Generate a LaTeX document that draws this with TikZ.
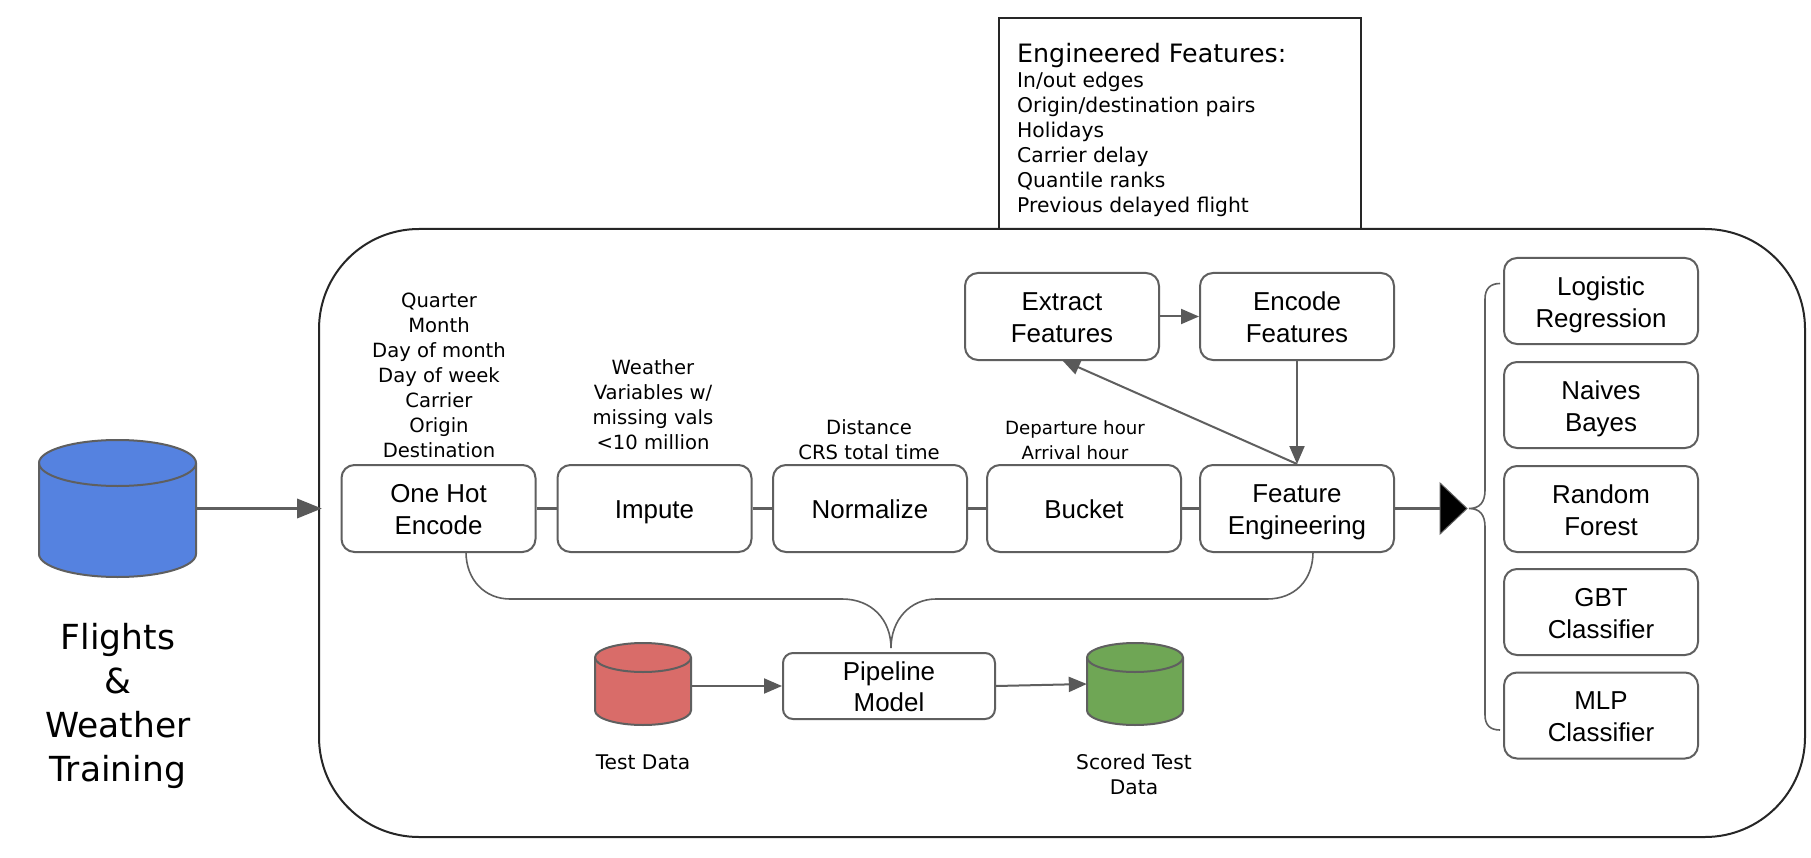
\documentclass[tikz,border=0pt]{standalone}
\usepackage{fontspec}
\setmainfont{Liberation Sans}
\newfontfamily\annofam{DejaVu Sans}
\usetikzlibrary{arrows.meta,calc}
\definecolor{lineg}{HTML}{5F5F5F}
\definecolor{headg}{HTML}{595959}
\definecolor{dbblue}{HTML}{5582E0}
\definecolor{dbred}{HTML}{D96C69}
\definecolor{dbgreen}{HTML}{6FA655}
\newcommand{\fs}{\rule{0pt}{.98em}}
\newcommand{\dbcyl}[7]{%
  % name, xmin, xmax, ytop, ybottom, ry, colour
  \path[draw=lineg,line width=2pt,fill=#7]
    (#2,#4+#6) arc[x radius={(#3-#2)/2},y radius=#6,start angle=180,end angle=360]
    -- (#3,#5-#6) arc[x radius={(#3-#2)/2},y radius=#6,start angle=0,end angle=180] -- cycle;
  \path[draw=lineg,line width=2pt]
    (#2,#4+#6) arc[x radius={(#3-#2)/2},y radius=#6,start angle=180,end angle=0];
  \path ({(#2+#3)/2},{(#4+#5)/2}) node[inner sep=0pt,minimum width=#3pt-#2pt,minimum height=#5pt-#4pt] (#1) {};
}
\tikzset{
  boxn/.style={draw=lineg,line width=2pt,rounded corners=13pt,fill=white,inner sep=0pt,
    minimum width=194pt,minimum height=87pt,align=center,text=black,
    font=\fontsize{25.9}{32}\selectfont,
    execute at end node={\rule[-.2em]{0pt}{.2em}}},
  anno/.style={align=center,inner sep=0pt,text=black,font=\annofam\fontsize{19.6}{25}\selectfont},
  conn/.style={draw=lineg,line width=2pt},
  thickconn/.style={draw=lineg,line width=3pt},
  arrowc/.style={conn,-{Triangle[length=18pt,width=15pt,fill=headg,color=headg]}},
  framen/.style={draw=black!85,line width=2pt}
}
\begin{document}
\begin{tikzpicture}[x=1pt,y=-1pt]
\useasboundingbox (0,0) rectangle (1811,858);
\fill[white] (0,0) rectangle (1811,858);
% engineered features box
\node[framen,minimum width=362pt,minimum height=216pt,inner sep=0pt,anchor=north west] (feat) at (998,17) {};
\node[anchor=north west,align=left,inner sep=0pt,font=\annofam\fontsize{25.3}{27}\selectfont] (feattitle) at (1017,43) {Engineered Features:};
\node[anchor=north west,align=left,inner sep=0pt,text=black,font=\annofam\fontsize{20.3}{25}\selectfont] (featlist) at (1017,72)
  {In/out edges\\Origin/destination pairs\\Holidays\\Carrier delay\\Quantile ranks\\Previous delayed flight};
% outer frame
\node[framen,fill=white,rounded corners=100pt,minimum width=1486pt,minimum height=608pt,inner sep=0pt,anchor=north west] (frame) at (318,228) {};
% source
\dbcyl{db}{39}{196}{440}{577}{23}{dbblue}
\node[align=center,inner sep=0pt,text=black,font=\annofam\fontsize{34.5}{44}\selectfont] (dbl) at (118,706) {Flights\\\&\\Weather\\Training};
\coordinate (inlet) at (322,508.5);
\draw[draw=lineg,line width=3.6pt,-{Triangle[length=25pt,width=19pt,fill=headg,color=headg]}] (db.east) -- (inlet);
% pipeline
\node[boxn] (onehot) at (438.5,508.5) {\fs One Hot\\Encode};
\node[boxn] (impute) at (654.5,508.5) {\fs Impute};
\node[boxn] (norm) at (870,508.5) {\fs Normalize};
\node[boxn] (bucket) at (1084,508.5) {\fs Bucket};
\node[boxn] (fe) at (1297,508.5) {\fs Feature\\Engineering};
\node[boxn] (extract) at (1062,316.5) {\fs Extract\\Features};
\node[boxn] (encode) at (1297,316.5) {\fs Encode\\Features};
\draw[thickconn] (onehot) -- (impute);
\draw[thickconn] (impute) -- (norm);
\draw[thickconn] (norm) -- (bucket);
\draw[thickconn] (bucket) -- (fe);
\draw[arrowc] (extract) -- (encode);
\draw[arrowc] (encode) -- (fe);
\draw[arrowc] (fe.north) -- (1062,360);
% annotations
\node[anno] (a1) at (439,375) {Quarter\\Month\\Day of month\\Day of week\\Carrier\\Origin\\Destination};
\node[anno] (a2) at (653,405) {Weather\\Variables w/\\missing vals\\<10 million};
\node[anno] (a3) at (869,440) {Distance\\CRS total time};
\node[anno,font=\annofam\fontsize{18.2}{25}\selectfont] (a4) at (1075,440) {Departure hour\\Arrival hour};
% output triangle and brace
\coordinate (tri) at (1440,508.5);
\fill[black,draw=lineg,line width=1pt] (1440,483) -- (1467,508.5) -- (1440,534) -- cycle;
\draw[thickconn] (fe.east) -- (tri);
\node[boxn,minimum height=86pt] (m1) at (1601,301) {\fs Logistic\\Regression};
\node[boxn,minimum height=86pt] (m2) at (1601,405) {\fs Naives\\Bayes};
\node[boxn,minimum height=86pt] (m3) at (1601,509) {\fs Random\\Forest};
\node[boxn,minimum height=86pt] (m4) at (1601,612) {\fs GBT\\Classifier};
\node[boxn,minimum height=86pt] (m5) at (1601,715.5) {\fs MLP\\Classifier};
\coordinate (btip) at (1469,508.5);
\coordinate (btop) at (1500,283.5);
\coordinate (bbot) at (1500,730);
\draw[conn,line width=1.6pt] (btop) .. controls (1490,283.5) and (1485,289) .. (1485,299)
  -- (1485,490) .. controls (1485,502) and (1480,508.5) .. (btip)
  .. controls (1480,508.5) and (1485,515) .. (1485,527)
  -- (1485,715) .. controls (1485,725) and (1490,730) .. (bbot);
% test flow
\dbcyl{dbtest}{595}{691}{643}{725}{14.5}{dbred}
\dbcyl{dbscored}{1087}{1183}{643}{725}{14.5}{dbgreen}
\node[boxn,minimum width=212pt,minimum height=66pt,rounded corners=10pt,font=\fontsize{25.9}{31}\selectfont] (pipe) at (889,686) {\fs Pipeline\\Model};
\draw[arrowc] (dbtest.east |- pipe.west) -- (pipe.west);
\draw[arrowc] (pipe.east) -- (dbscored.east -| dbscored.west);
\node[anno,font=\annofam\fontsize{20.2}{25}\selectfont] (l1) at (643,762) {Test Data};
\node[anno,font=\annofam\fontsize{20.2}{25}\selectfont] (l2) at (1134,774) {Scored Test\\Data};
% merge
\coordinate (mtip) at (891,648);
\draw[conn,line width=1.6pt] (466,552) .. controls (466,580) and (485,599) .. (510,599)
  -- (842,599) .. controls (872,599) and (891,620) .. (mtip)
  .. controls (891,620) and (910,599) .. (936,599)
  -- (1267,599) .. controls (1295,599) and (1313,580) .. (1313,552);
\end{tikzpicture}
\end{document}
